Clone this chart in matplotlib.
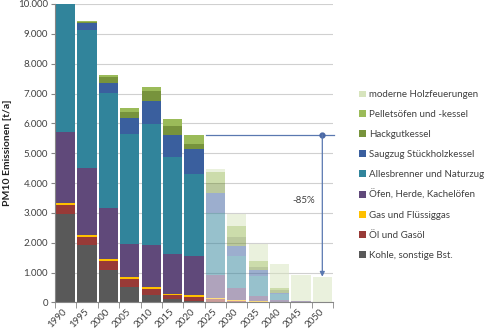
import matplotlib.pyplot as plt
import numpy as np
from matplotlib.patches import Patch
from matplotlib.transforms import ScaledTranslation

years = ["1990", "1995", "2000", "2005", "2010", "2015", "2020",
         "2025", "2030", "2035", "2040", "2045", "2050"]

# PM10 emissions [t/a] per source, stacked bottom -> top
kohle   = [2960, 1930, 1090,  500,  250,  100,   30,   10,    0,    0,    0,    0,    0]
oel     = [ 310,  270,  310,  280,  200,  150,  160,   90,   50,   20,   10,   10,   10]
gas     = [  70,   70,   70,   80,   70,   30,   50,   40,   30,   10,   10,    0,    0]
oefen   = [2380, 2230, 1690, 1080, 1410, 1340, 1320,  780,  390,  200,   60,   50,   10]
alles   = [4700, 4630, 3870, 3690, 4050, 3260, 2740, 2070, 1090,  670,  210,    0,    0]
saugzug = [ 300,  220,  330,  550,  780,  730,  840,  670,  330,  170,   20,    0,    0]
hackgut = [ 100,   50,  200,  210,  340,  310,  170,  330,  290,  130,   90,    0,    0]
pellet  = [  30,   20,   70,  110,  130,  230,  310,  370,  380,  170,   70,    0,    0]
modern  = [   0,    0,    0,    0,    0,    0,    0,  110,  390,  590,  820,  870,  820]

series = [
    ("Kohle, sonstige Bst.",         kohle,   "#595959"),
    ("Öl und Gasöl",                 oel,     "#983a37"),
    ("Gas und Flüssiggas",           gas,     "#ffc000"),
    ("Öfen, Herde, Kachelöfen",      oefen,   "#60497a"),
    ("Allesbrenner und Naturzug",    alles,   "#31849b"),
    ("Saugzug Stückholzkessel",      saugzug, "#3a5f9e"),
    ("Hackgutkessel",                hackgut, "#77933c"),
    ("Pelletsöfen und -kessel",      pellet,  "#9bbb59"),
    ("moderne Holzfeuerungen",       modern,  "#d7e4bd"),
]
n_hist = 7  # bars up to 2020 are solid, scenario bars are faded

yticks = [0, 1000, 2000, 3000, 4000, 5000, 6000, 7000, 8000, 9000, 10000]
ytick_labels = ["0", "1.000", "2.000", "3.000", "4.000", "5.000",
                "6.000", "7.000", "8.000", "9.000", "10.000"]

plt.rcParams["font.family"] = ["Lato", "DejaVu Sans"]
txt = "#404040"
fs = 7

fig = plt.figure(figsize=(5, 3.33), dpi=100)
ax = fig.add_axes([0.11, 0.092, 0.556, 0.896])

x = np.arange(len(years))
bottom = np.zeros(len(years))
for name, vals, col in series:
    vals = np.array(vals, dtype=float)
    ax.bar(x[:n_hist], vals[:n_hist], bottom=bottom[:n_hist], width=0.9,
           color=col, linewidth=0, zorder=2)
    ax.bar(x[n_hist:], vals[n_hist:], bottom=bottom[n_hist:], width=0.9,
           color=col, alpha=0.5, linewidth=0, zorder=2)
    bottom += vals

ax.set_xlim(-0.5, len(years) - 0.5)
ax.set_ylim(0, 10000)
ax.set_yticks(yticks)
ax.set_yticklabels(ytick_labels, fontsize=fs, color=txt)
ax.set_xticks(x)
ax.set_xticklabels(years, fontsize=fs, color=txt, rotation=45,
                   ha="right", va="center", rotation_mode="anchor")
shift = ScaledTranslation(6 / 100, 0, fig.dpi_scale_trans)
for lab in ax.get_xticklabels():
    lab.set_transform(lab.get_transform() + shift)
ax.set_xticks(np.arange(-0.5, len(years)), minor=True)
ax.tick_params(axis="x", which="major", length=0, pad=6)
ax.tick_params(axis="x", which="minor", length=4, color="#868686")
ax.tick_params(axis="y", length=3, color="#868686", pad=2)
ax.grid(axis="y", color="#d0d0d0", linewidth=0.8, zorder=0)
for s in ["top", "right"]:
    ax.spines[s].set_visible(False)
for s in ["left", "bottom"]:
    ax.spines[s].set_color("#868686")
    ax.spines[s].set_linewidth(0.8)
ax.set_ylabel("PM10 Emissionen [t/a]", fontsize=7.5, fontweight="bold",
              color="#202020", labelpad=4)

# reduction marker 2020 -> 2050
tot = bottom
ax.plot([n_hist - 0.45, len(years) - 0.45], [tot[n_hist - 1]] * 2,
        color="#5a78b0", linewidth=0.9, zorder=3, clip_on=False)
ax.plot([len(years) - 1], [tot[n_hist - 1]], "o", color="#4a68a5",
        markersize=3.5, zorder=4)
ax.annotate("", xy=(len(years) - 1, tot[-1] + 20),
            xytext=(len(years) - 1, tot[n_hist - 1]),
            arrowprops=dict(arrowstyle="-|>", color="#5a78b0", lw=0.9,
                            mutation_scale=7, shrinkA=0, shrinkB=0), zorder=4)
ax.text(11.15, 3410, "-85%", fontsize=fs, color=txt, ha="center", va="center")

handles = [Patch(facecolor=c, edgecolor="none", label=n) for n, v, c in series][::-1]
fig.legend(handles=handles, loc="upper left", bbox_to_anchor=(0.7, 0.755),
           frameon=False, fontsize=fs, handlelength=0.7, handleheight=0.7,
           handletextpad=0.4, labelspacing=1.12, labelcolor=txt)

fig.savefig("out.png", dpi=100)
